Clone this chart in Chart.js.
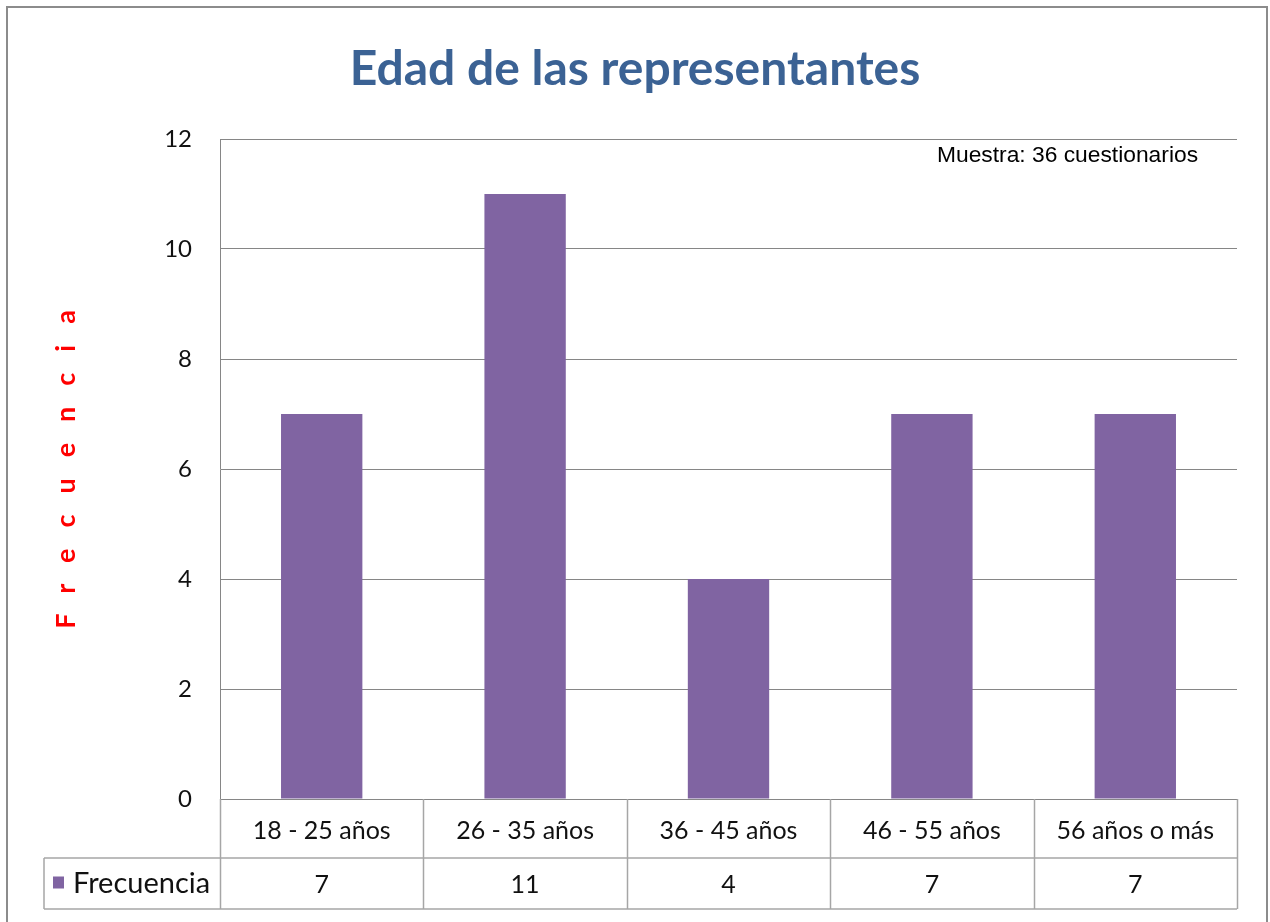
<!DOCTYPE html>
<html lang="es">
<head>
<meta charset="UTF-8">
<title>Edad de las representantes</title>
<script src="https://cdn.jsdelivr.net/npm/chart.js@4.4.1/dist/chart.umd.min.js"></script>
<style>
  html, body { margin: 0; padding: 0; background: #fff; }
</style>
</head>
<body>
<canvas id="chart" width="1270" height="922"></canvas>
<script>
const categories = ['18 - 25 años', '26 - 35 años', '36 - 45 años', '46 - 55 años', '56 años o más'];
const frecuencia = [7, 11, 4, 7, 7];
const yMax = 12;
const yStep = 2;
const seriesName = 'Frecuencia';
const chartTitle = 'Edad de las representantes';
const axisTitle = 'Frecuencia';
const note = 'Muestra: 36 cuestionarios';

const purple = '#8064a2';
const gridGrey = '#868686';
const tableGrey = '#a6a6a6';
const fontFam = 'Lato, "Open Sans", sans-serif';

// frame, data table under the x axis, rotated axis title and the sample note
const extras = {
  id: 'extras',
  beforeDraw(chart) {
    const ctx = chart.ctx;
    ctx.save();
    ctx.fillStyle = '#fff';
    ctx.fillRect(0, 0, chart.width, chart.height);
    ctx.strokeStyle = '#8c8c8c';
    ctx.lineWidth = 2;
    ctx.beginPath();
    ctx.moveTo(7, 930);
    ctx.lineTo(7, 7);
    ctx.lineTo(1267, 7);
    ctx.lineTo(1267, 930);
    ctx.stroke();
    ctx.restore();
  },
  afterDraw(chart) {
    const ctx = chart.ctx;
    const area = chart.chartArea;
    const x = chart.scales.x;
    const n = categories.length;
    const cw = (area.right - area.left) / n;
    const row1 = area.bottom + 59;
    const row2 = x.bottom;
    const legLeft = 44;

    ctx.save();
    ctx.strokeStyle = tableGrey;
    ctx.lineWidth = 1.5;
    ctx.beginPath();
    for (let i = 0; i <= n; i++) {
      const px = Math.round(area.left + i * cw) + 0.5;
      ctx.moveTo(px, area.bottom);
      ctx.lineTo(px, row2);
    }
    ctx.moveTo(legLeft, row1);
    ctx.lineTo(area.right, row1);
    ctx.moveTo(legLeft, row2);
    ctx.lineTo(area.right, row2);
    ctx.moveTo(legLeft, row1);
    ctx.lineTo(legLeft, row2);
    ctx.stroke();

    // values row
    const midY = (row1 + row2) / 2;
    ctx.fillStyle = '#111';
    ctx.font = '25px ' + fontFam;
    ctx.textAlign = 'center';
    ctx.textBaseline = 'middle';
    frecuencia.forEach((v, i) => {
      ctx.fillText(String(v), x.getPixelForValue(i), midY + 1);
    });

    // legend key
    ctx.fillStyle = purple;
    ctx.fillRect(53, midY - 7, 11, 12);
    ctx.fillStyle = '#111';
    ctx.textAlign = 'left';
    ctx.font = '29px ' + fontFam;
    ctx.fillText(seriesName, 73, midY);

    // axis title
    ctx.save();
    ctx.translate(66, (area.top + area.bottom) / 2);
    ctx.rotate(-Math.PI / 2);
    ctx.fillStyle = '#ff0000';
    ctx.font = 'bold 27px ' + fontFam;
    ctx.letterSpacing = '21px';
    ctx.textAlign = 'center';
    ctx.fillText(axisTitle, 10, 0);
    ctx.restore();

    // note
    ctx.fillStyle = '#000';
    ctx.font = '22.8px "Liberation Sans", Arial, sans-serif';
    ctx.textAlign = 'left';
    ctx.fillText(note, 937, 156);
    ctx.restore();
  }
};

new Chart(document.getElementById('chart'), {
  type: 'bar',
  data: {
    labels: categories,
    datasets: [{
      label: seriesName,
      data: frecuencia,
      backgroundColor: purple,
      barPercentage: 0.4,
      categoryPercentage: 1.0
    }]
  },
  options: {
    responsive: false,
    animation: false,
    layout: { padding: { left: 33, right: 33, top: 0, bottom: 13 } },
    plugins: {
      legend: { display: false },
      tooltip: { enabled: false },
      title: {
        display: true,
        text: chartTitle,
        color: '#3b6294',
        font: { family: fontFam, size: 48, weight: 'bold', lineHeight: 1.2 },
        padding: { top: 41, bottom: 139 - 41 - 48 * 1.2 }
      }
    },
    scales: {
      x: {
        grid: { display: false },
        border: { display: false },
        ticks: {
          color: '#111',
          padding: 9,
          maxRotation: 0,
          font: { family: fontFam, size: 25, lineHeight: 1.2 }
        },
        afterFit(s) { s.height = 110; }
      },
      y: {
        min: 0,
        max: yMax,
        ticks: {
          stepSize: yStep,
          color: '#111',
          padding: 28,
          font: { family: fontFam, size: 24 }
        },
        grid: { color: gridGrey, lineWidth: 1, drawTicks: false },
        border: { display: true, color: gridGrey, width: 1 },
        afterFit(s) { s.width = 187; }
      }
    }
  },
  plugins: [extras]
});
</script>
</body>
</html>
